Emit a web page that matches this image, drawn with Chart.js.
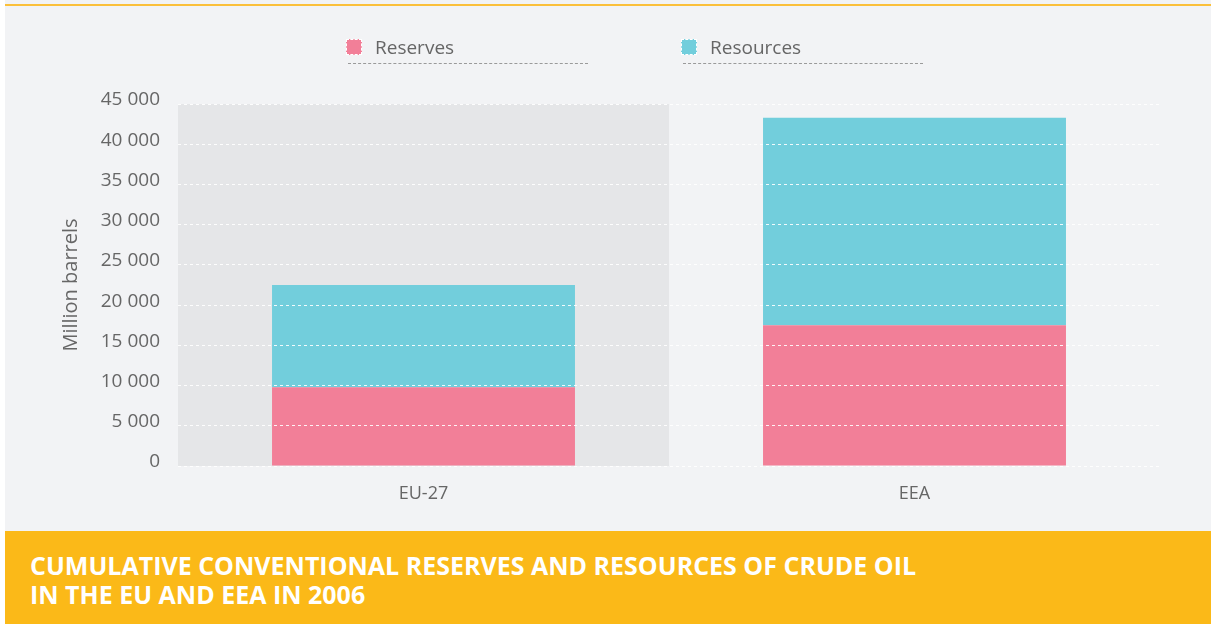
<!DOCTYPE html>
<html>
<head>
<meta charset="utf-8">
<script src="https://cdn.jsdelivr.net/npm/chart.js@4"></script>
<style>
  html, body { margin: 0; padding: 0; background: #fff; }
  #page { position: absolute; left: 5px; top: 0; width: 1206px; height: 624px; background: #f2f3f5; overflow: hidden; }
  #topline { position: absolute; left: 0; top: 4px; width: 100%; height: 2px; background: #fbc03a; }
  #wrap { position: absolute; left: 0; top: 0; width: 1211px; height: 531px; }
  #legend { position: absolute; top: 0; left: 0; font-family: "Open Sans", sans-serif; font-size: 19px; color: #666; }
  .item { position: absolute; top: 34px; width: 240px; height: 29px; border-bottom: 1px dashed #9a9a9a; }
  .box { position: absolute; left: -2px; top: 5px; width: 14px; height: 14px; border: 1px dashed #fff; }
  .item span.txt { position: absolute; left: 27px; top: 0px; }
  #banner { position: absolute; left: 0; top: 531px; width: 100%; height: 93px; background: #fbb918; color: #fff;
    font-family: "Open Sans", sans-serif; font-weight: 700; font-size: 25px; line-height: 29px; letter-spacing: 0; }
  #banner div { position: absolute; left: 25px; top: 20px; }
</style>
</head>
<body>
<div id="page">
  <div id="topline"></div>
  <div id="banner"><div>CUMULATIVE CONVENTIONAL RESERVES AND RESOURCES OF CRUDE OIL<br>IN THE EU AND EEA IN 2006</div></div>
</div>
<div id="wrap"><canvas id="chart" width="1211" height="531"></canvas><div id="legend"></div></div>
<script>
const regions = ['EU-27', 'EEA'];
const reserves = [9800, 17500];
const resources = [12700, 25800];
const yTicks = [0, 5000, 10000, 15000, 20000, 25000, 30000, 35000, 40000, 45000];

const fmt = v => String(v).replace(/\B(?=(\d{3})+(?!\d))/g, ' ');

// grey band behind the first category
const bandPlugin = {
  id: 'band',
  beforeDatasetsDraw(chart) {
    const { ctx, chartArea, scales } = chart;
    const mid = (scales.x.getPixelForValue(0) + scales.x.getPixelForValue(1)) / 2;
    ctx.save();
    ctx.fillStyle = '#e5e6e8';
    ctx.fillRect(chartArea.left, chartArea.top, mid - chartArea.left, chartArea.bottom - chartArea.top);
    ctx.restore();
  }
};

const chart = new Chart(document.getElementById('chart'), {
  type: 'bar',
  data: {
    labels: regions,
    datasets: [
      { label: 'Reserves', data: reserves, backgroundColor: '#f27f98' },
      { label: 'Resources', data: resources, backgroundColor: '#72cedc' }
    ]
  },
  options: {
    responsive: false,
    animation: false,
    layout: { padding: { left: 56, right: 51, top: 104, bottom: 0 } },
    plugins: { legend: { display: false }, tooltip: { enabled: false } },
    datasets: { bar: { categoryPercentage: 1, barPercentage: 0.617 } },
    scales: {
      x: {
        stacked: true,
        grid: { display: false },
        border: { display: false },
        ticks: { color: '#666', padding: 9, font: { family: 'Open Sans', size: 18 } },
        afterFit: s => { s.height = 65; }
      },
      y: {
        stacked: true,
        min: 0,
        max: 45000,
        afterBuildTicks: s => { s.ticks = yTicks.map(v => ({ value: v })); },
        afterFit: s => { s.width = 122; },
        grid: { color: 'rgba(255,255,255,0.9)', drawTicks: false, z: 1 },
        border: { display: false, dash: [3, 3] },
        ticks: { color: '#666', padding: 18, labelOffset: -4, font: { family: 'Open Sans', size: 19 }, callback: v => fmt(v) },
        title: { display: true, text: 'Million barrels', color: '#666', padding: { top: 3 }, font: { family: 'Open Sans', size: 20 } }
      }
    }
  },
  plugins: [bandPlugin]
});

// legend built from the datasets
const legend = document.getElementById('legend');
const legendX = [348, 683];
chart.data.datasets.forEach((ds, i) => {
  const it = document.createElement('div');
  it.className = 'item';
  it.style.left = legendX[i] + 'px';
  it.innerHTML = '<span class="box" style="background:' + ds.backgroundColor + '"></span><span class="txt">' + ds.label + '</span>';
  legend.appendChild(it);
});
</script>
</body>
</html>
